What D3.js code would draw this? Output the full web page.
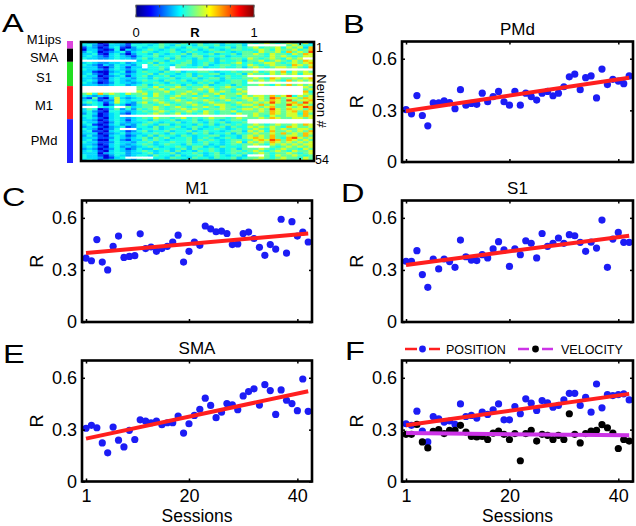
<!DOCTYPE html>
<html><head><meta charset="utf-8">
<script src="https://cdn.jsdelivr.net/npm/d3@7/dist/d3.min.js"></script>
<style>body{margin:0;background:#fff}svg{display:block}</style>
</head><body>
<svg id="c" width="636" height="526"></svg>
<script>
// ---------------- DATA ----------------
const sessions = [1,2,3,4,5,6,7,8,9,10,11,12,13,14,15,16,17,18,19,20,21,22,23,24,25,26,27,28,29,30,31,32,33,34,35,36,37,38,39,40,41,42];
const xTicks = [1, 20, 40];
const yTicks = [0, 0.3, 0.6];

const pmd = [0.304,0.28,0.386,0.27,0.21,0.343,0.343,0.355,0.345,0.31,0.42,0.33,0.34,0.335,0.40,0.35,0.38,0.41,0.35,0.33,0.41,0.33,0.40,0.38,0.36,0.40,0.41,0.385,0.40,0.437,0.495,0.51,0.42,0.49,0.50,0.372,0.54,0.45,0.48,0.47,0.455,0.50];
const m1  = [0.368,0.353,0.475,0.345,0.30,0.436,0.495,0.372,0.378,0.382,0.508,0.423,0.432,0.407,0.423,0.436,0.461,0.50,0.345,0.407,0.461,0.442,0.553,0.537,0.52,0.524,0.51,0.446,0.45,0.51,0.518,0.481,0.43,0.384,0.446,0.42,0.592,0.397,0.578,0.495,0.518,0.461];
const s1  = [0.35,0.35,0.411,0.273,0.20,0.363,0.306,0.363,0.348,0.315,0.472,0.376,0.357,0.354,0.388,0.369,0.421,0.463,0.415,0.32,0.422,0.388,0.468,0.453,0.369,0.51,0.436,0.453,0.484,0.453,0.503,0.497,0.459,0.407,0.46,0.426,0.587,0.315,0.478,0.516,0.459,0.459];
const sma = [0.308,0.325,0.311,0.223,0.166,0.315,0.239,0.20,0.296,0.243,0.357,0.349,0.34,0.349,0.329,0.34,0.34,0.379,0.28,0.334,0.382,0.418,0.482,0.44,0.369,0.401,0.451,0.444,0.415,0.495,0.52,0.536,0.442,0.56,0.526,0.388,0.53,0.47,0.451,0.41,0.593,0.406];
const allPosition = [0.334,0.325,0.407,0.292,0.229,0.376,0.363,0.344,0.35,0.33,0.449,0.376,0.382,0.367,0.401,0.388,0.415,0.449,0.357,0.357,0.434,0.392,0.478,0.453,0.411,0.468,0.455,0.43,0.44,0.472,0.51,0.51,0.44,0.487,0.401,0.564,0.426,0.503,0.497,0.503,0.507,0.472];
const allVelocity = [0.273,0.273,0.33,0.229,0.194,0.29,0.30,0.277,0.296,0.296,0.325,0.286,0.261,0.258,0.261,0.243,0.28,0.292,0.273,0.243,0.277,0.12,0.277,0.296,0.234,0.273,0.267,0.243,0.267,0.243,0.392,0.273,0.223,0.277,0.292,0.296,0.329,0.311,0.28,0.191,0.243,0.234];

// fitted line values at first and last session
const fitPMd = [0.296, 0.49];
const fitM1 = [0.397, 0.51];
const fitS1 = [0.329, 0.497];
const fitSMA = [0.248, 0.522];
const fitPosition = [0.325, 0.507];
const fitVelocity = [0.28, 0.267];

const regionNames = ["M1ips", "SMA", "S1", "M1", "PMd"];
const regionCounts = [3, 6, 11, 15, 19];
const colorbarTicks = [0, 0.2, 0.4, 0.6, 0.8, 1];

// heat-map level key: digit -> R value ("." = not recorded)
const heatLevels = [0.09, 0.19, 0.28, 0.34, 0.4, 0.47, 0.58, 0.69, 0.8, 0.92];
const heatRows = [
"4330143313"+"34435443544534435443"+"545654565463",
"3421033214"+"44345435443544534453"+".......56544",
"1320134102"+"43445344354453445354"+"564556465637",
"0331014032"+"34543453445345434554"+"456546556457",
"2430123413"+"45434454354434554345"+"546556475658",
"3341034202"+"44354344535445344535"+"565465546576",
"3432134321"+"34453445345534453445"+"555465654566",
"4332234332"+"45344535443545344554"+"6545654656..",
".........."+"34454354453445354453"+"556456546576",
"3432233423"+"44535444553454344564"+"545665456567",
"4321324332"+"4.454435543453455454"+"654565547656",
"3331024313"+"3.4454.5444534454453"+"565456656547",
"4332134323"+"434453.............."+"............",
"3310023412"+"45443545344554344545"+"564565746565",
"3421034323"+"44535443453445534453"+"655465656466",
"4330123413"+"45344534453544345445"+"............",
"3321034332"+"44354453445345535445"+"565476556567",
"3431134323"+"45443544534454434554"+"656565475656",
"4320124332"+"34454354443545344554"+"............",
"3332234423"+"45345445354453445354"+"556546575656",
".........."+"55464556545565456545"+"..........65",
".........."+"54556465545656455465"+"..........56",
".........."+"65455645565546565456"+"..........74",
"5647565465"+"56465545656455645565"+"..........65",
"4323245434"+"55465456554565465546"+"566575684656",
"2151036323"+"46555465456545565456"+"656587566576",
"3431226434"+"45565456545565456545"+"656576585667",
"4543136432"+"56456545565456554565"+"565686567586",
"2343024312"+"45545654556545665456"+"657565586765",
"...434..53"+"45565456545565465545"+"565675565687",
"3540135242"+"54565455656545565456"+"656586576657",
"3421044323"+"45456545565465455645"+"556576567576",
"2430134213"+"44565456454565455465"+"565576566475",
"4420134..."+"...................."+"565465566576",
"3431034323"+"45465545645456554565"+"556576556656",
"3320134313"+"44354453445345434554"+"............",
"4331024323"+"34543445345435453445"+"............",
"3410134232"+"45435534443545345454"+"565456556576",
"2331023412"+"44353445345434453544"+"656565476556",
"4320124..."+"34453454435344543454"+"565465655665",
"3411034312"+"45344534453454434553"+"656475565657",
"3330123423"+"34454354435453445354"+"565565756576",
"2421034312"+"43535443543445534435"+"656575566575",
"3331124323"+"45354534453454345435"+"676575478656",
"3420034213"+"35454344453545434554"+"567687576565",
"4331124332"+"44534454453454434563"+"656576565656",
"3320134323"+"45434544354453434545"+"565465656566",
"3431034232"+"34543445435534354445"+"....54565656",
"2320124312"+"43354434535445434535"+"556545655465",
"3431034323"+"45434535343545434554"+"565456546556",
"3330234423"+"34534453445434534545"+"456545565456",
"4331024323"+"44354435344534543453"+"...546556545",
"43320134.."+"...44354435443544534"+"556545655465",
"3431234332"+"45435445354454344535"+"565456655565"
];

// ---------------- DRAWING ----------------
const FONT = '"Liberation Sans", Arial, Helvetica, sans-serif';
const svg = d3.select("#c").attr("font-family", FONT);
const BLUE = "#1c1cf5", RED = "#ff1f1f", MAG = "#cc33e6", BLK = "#000";

const jet = d3.scaleLinear()
  .domain([0, 0.125, 0.375, 0.625, 0.875, 1])
  .range(["#000080", "#0000ff", "#00ffff", "#ffff00", "#ff0000", "#800000"])
  .clamp(true);

const xDom = [0.26, 42.7], yDom = [0, 0.7];
const colL = {x0: 82, x1: 312}, colR = {x0: 402, x1: 633};
const row1 = {t: 41.5, b: 162}, row2 = {t: 200.5, b: 322}, row3 = {t: 360.5, b: 481.5};

function styleAxis(a, fs) {
  a.select(".domain").remove();
  a.selectAll("line").attr("stroke", "#000").attr("stroke-width", 1.5);
  a.selectAll("text").attr("font-family", FONT).attr("font-size", fs).attr("fill", "#000");
  return a;
}

function panel(col, row, title, series, fits, xlabels) {
  const x = d3.scaleLinear().domain(xDom).range([col.x0, col.x1]);
  const y = d3.scaleLinear().domain(yDom).range([row.b, row.t]);
  const g = svg.append("g");
  series.forEach(s => {
    g.append("g").selectAll("circle").data(s.v).join("circle")
      .attr("cx", (d, i) => x(sessions[i])).attr("cy", d => y(d))
      .attr("r", 3.6).attr("fill", s.c);
  });
  fits.forEach(f => {
    g.append("line")
      .attr("x1", x(sessions[0])).attr("y1", y(f.v[0]))
      .attr("x2", x(sessions[sessions.length - 1])).attr("y2", y(f.v[1]))
      .attr("stroke", f.c).attr("stroke-width", 4);
  });
  styleAxis(g.append("g").attr("transform", `translate(${col.x0},0)`)
    .call(d3.axisLeft(y).tickValues(yTicks).tickSize(-3).tickPadding(5).tickFormat(d => String(d))), 18);
  styleAxis(g.append("g").attr("transform", `translate(${col.x1},0)`)
    .call(d3.axisRight(y).tickValues(yTicks).tickSize(-3).tickFormat("")), 18);
  styleAxis(g.append("g").attr("transform", `translate(0,${row.t})`)
    .call(d3.axisTop(x).tickValues(xTicks).tickSize(-3).tickFormat("")), 18);
  styleAxis(g.append("g").attr("transform", `translate(0,${row.b})`)
    .call(d3.axisBottom(x).tickValues(xTicks).tickSize(-3).tickPadding(7.5)
      .tickFormat(xlabels ? (d => String(d)) : "")), 18);
  g.append("rect").attr("x", col.x0).attr("y", row.t)
    .attr("width", col.x1 - col.x0).attr("height", row.b - row.t)
    .attr("fill", "none").attr("stroke", "#000").attr("stroke-width", 2.6);
  if (title) g.append("text").attr("x", (col.x0 + col.x1) / 2).attr("y", row.t - 7)
    .attr("text-anchor", "middle").attr("font-size", 17).text(title);
  g.append("text").attr("transform", `translate(${col.x0 - 39},${(row.t + row.b) / 2}) rotate(-90)`)
    .attr("text-anchor", "middle").attr("font-size", 18).text("R");
  if (xlabels) g.append("text").attr("x", (col.x0 + col.x1) / 2).attr("y", 522)
    .attr("text-anchor", "middle").attr("font-size", 17.5).text("Sessions");
}

panel(colR, row1, "PMd", [{v: pmd, c: BLUE}], [{v: fitPMd, c: RED}], false);
panel(colL, row2, "M1", [{v: m1, c: BLUE}], [{v: fitM1, c: RED}], false);
panel(colR, row2, "S1", [{v: s1, c: BLUE}], [{v: fitS1, c: RED}], false);
panel(colL, row3, "SMA", [{v: sma, c: BLUE}], [{v: fitSMA, c: RED}], true);
panel(colR, row3, null, [{v: allPosition, c: BLUE}, {v: allVelocity, c: BLK}],
  [{v: fitPosition, c: RED}, {v: fitVelocity, c: MAG}], true);

// ---- Panel A heat map ----
const heat = heatRows.map(r => r.split("").map(ch => ch === "." ? null : heatLevels[+ch]));
const nRows = heat.length;
const hx = d3.scaleBand().domain(sessions).range([81, 314]);
const hy = d3.scaleBand().domain(d3.range(nRows)).range([42, 161]);
const hg = svg.append("g");
heat.forEach((row, ri) => {
  hg.append("g").selectAll("rect").data(row.map((v, ci) => ({v, s: sessions[ci]})).filter(d => d.s !== undefined))
    .join("rect")
    .attr("x", d => hx(d.s)).attr("y", hy(ri))
    .attr("width", hx.bandwidth() + 0.4).attr("height", hy.bandwidth() + 0.4)
    .attr("fill", d => d.v === null ? "#ffffff" : jet(d.v));
});
styleAxis(hg.append("g").attr("transform", "translate(0,42)")
  .call(d3.axisTop(hx).tickValues([20, 40]).tickSize(-3).tickFormat("")), 12);
styleAxis(hg.append("g").attr("transform", "translate(0,161)")
  .call(d3.axisBottom(hx).tickValues([20, 40]).tickSize(-3).tickFormat("")), 12);
hg.append("rect").attr("x", 81).attr("y", 42).attr("width", 233).attr("height", 119)
  .attr("fill", "none").attr("stroke", "#000").attr("stroke-width", 2.6);
hg.append("text").attr("x", 316).attr("y", 52).attr("font-size", 12.5).text("1");
hg.append("text").attr("x", 315).attr("y", 164).attr("font-size", 12.5).text(String(nRows));
hg.append("text").attr("transform", "translate(317,101) rotate(90)")
  .attr("text-anchor", "middle").attr("font-size", 13).text("Neuron #");

// region bar
const regionColors = ["#dd44dd", "#000000", "#22dd22", "#ff2020", "#2020ff"];
let start = 0;
const regionLabelY = [44, 62, 82, 110, 145];
regionNames.forEach((name, i) => {
  const y0 = hy(start), y1 = hy(start + regionCounts[i] - 1) + hy.bandwidth();
  svg.append("rect").attr("x", 67).attr("y", i === 0 ? y0 - 1 : y0).attr("width", 6)
    .attr("height", y1 - y0 + (i === 0 ? 1 : 0) + (i === regionNames.length - 1 ? 2 : 0))
    .attr("fill", regionColors[i]);
  svg.append("text").attr("x", 44).attr("y", regionLabelY[i]).attr("text-anchor", "middle")
    .attr("font-size", 13).text(name);
  start += regionCounts[i];
});

// colorbar
const cbx = d3.scaleLinear().domain([0, 1]).range([136, 254]);
const defs = svg.append("defs");
const grad = defs.append("linearGradient").attr("id", "jetg").attr("x1", "0%").attr("x2", "100%");
jet.domain().forEach((d, i) => grad.append("stop").attr("offset", (d * 100) + "%").attr("stop-color", jet.range()[i]));
svg.append("rect").attr("x", cbx(0)).attr("y", 5).attr("width", cbx(1) - cbx(0)).attr("height", 12)
  .attr("fill", "url(#jetg)").attr("stroke", "#666").attr("stroke-width", 0.8);
const cbt = svg.append("g");
colorbarTicks.forEach(t => {
  cbt.append("line").attr("x1", cbx(t)).attr("x2", cbx(t)).attr("y1", 5).attr("y2", 7.5).attr("stroke", "#444").attr("stroke-width", 1);
  cbt.append("line").attr("x1", cbx(t)).attr("x2", cbx(t)).attr("y1", 14.5).attr("y2", 17).attr("stroke", "#444").attr("stroke-width", 1);
});
svg.append("text").attr("x", cbx(0)).attr("y", 37).attr("text-anchor", "middle").attr("font-size", 13).text("0");
svg.append("text").attr("x", cbx(0.5)).attr("y", 37).attr("text-anchor", "middle").attr("font-size", 13).attr("font-weight", "bold").text("R");
svg.append("text").attr("x", cbx(1)).attr("y", 37).attr("text-anchor", "middle").attr("font-size", 13).text("1");

// legend for F
const lg = svg.append("g");
const ly = 349;
lg.append("line").attr("x1", 405).attr("x2", 417).attr("y1", ly).attr("y2", ly).attr("stroke", RED).attr("stroke-width", 2.5);
lg.append("line").attr("x1", 429).attr("x2", 440).attr("y1", ly).attr("y2", ly).attr("stroke", RED).attr("stroke-width", 2.5);
lg.append("circle").attr("cx", 422.5).attr("cy", ly).attr("r", 3.4).attr("fill", BLUE);
lg.append("text").attr("x", 446).attr("y", ly + 4.5).attr("font-size", 12.5).text("POSITION");
lg.append("line").attr("x1", 518).attr("x2", 529).attr("y1", ly).attr("y2", ly).attr("stroke", MAG).attr("stroke-width", 2.5);
lg.append("line").attr("x1", 542).attr("x2", 553).attr("y1", ly).attr("y2", ly).attr("stroke", MAG).attr("stroke-width", 2.5);
lg.append("circle").attr("cx", 535.5).attr("cy", ly).attr("r", 3.4).attr("fill", BLK);
lg.append("text").attr("x", 561).attr("y", ly + 4.5).attr("font-size", 12.5).text("VELOCITY");

// panel letters
const letters = [["A", 2, 32], ["B", 343, 33], ["C", 2, 206], ["D", 341, 202], ["E", 3, 363], ["F", 345, 360]];
letters.forEach(([t, x, y]) => {
  svg.append("text").attr("transform", `translate(${x},${y}) scale(1.3,1)`)
    .attr("font-size", 25).text(t);
});
</script>
</body></html>
